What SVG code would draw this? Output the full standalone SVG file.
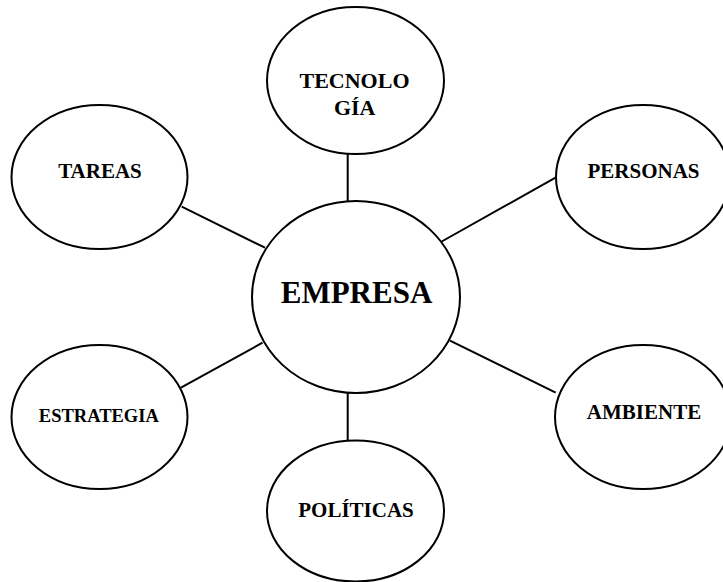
<svg xmlns="http://www.w3.org/2000/svg" width="723" height="582" viewBox="0 0 723 582">
  <style>
    .node { fill: #ffffff; stroke: #000000; stroke-width: 2; }
    .edge { stroke: #000000; stroke-width: 2; fill: none; }
    .label { font-family: "Liberation Serif", "Times New Roman", serif; font-weight: bold; fill: #000000; text-anchor: middle; }
  </style>
  <rect width="723" height="582" fill="#ffffff"/>

  <!-- spokes from the hub to each surrounding node -->
  <g id="connectors">
    <line class="edge" x1="347.7" y1="153" x2="347.7" y2="202"/>
    <line class="edge" x1="181.7" y1="206.7" x2="265" y2="247.7"/>
    <line class="edge" x1="441.7" y1="241.5" x2="555.5" y2="177.7"/>
    <line class="edge" x1="181" y1="387.7" x2="262.5" y2="342.7"/>
    <line class="edge" x1="347.7" y1="392" x2="347.7" y2="442"/>
    <line class="edge" x1="450" y1="340.7" x2="555.7" y2="392.7"/>
  </g>

  <g id="empresa">
    <ellipse class="node" cx="356" cy="297" rx="104" ry="96"/>
    <text class="label" x="356.5" y="303" font-size="31">EMPRESA</text>
  </g>

  <g id="tecnologia">
    <ellipse class="node" cx="355.5" cy="80.5" rx="88.5" ry="73.5"/>
    <text class="label" x="354.5" y="87.5" font-size="22">TECNOLO</text>
    <text class="label" x="354.7" y="115" font-size="22">GÍA</text>
  </g>

  <g id="tareas">
    <ellipse class="node" cx="99.5" cy="177" rx="88" ry="72"/>
    <text class="label" x="100" y="178" font-size="21">TAREAS</text>
  </g>

  <g id="personas">
    <ellipse class="node" cx="643" cy="177" rx="87" ry="72"/>
    <text class="label" x="643.5" y="178" font-size="21">PERSONAS</text>
  </g>

  <g id="estrategia">
    <ellipse class="node" cx="99.5" cy="417" rx="88" ry="72"/>
    <text class="label" x="98.8" y="421.5" font-size="18.5">ESTRATEGIA</text>
  </g>

  <g id="politicas">
    <ellipse class="node" cx="355.5" cy="511" rx="88.5" ry="70.5"/>
    <text class="label" x="356" y="517.3" font-size="21">POLÍTICAS</text>
  </g>

  <g id="ambiente">
    <ellipse class="node" cx="643" cy="417" rx="88" ry="72"/>
    <text class="label" x="644" y="419" font-size="21">AMBIENTE</text>
  </g>
</svg>
